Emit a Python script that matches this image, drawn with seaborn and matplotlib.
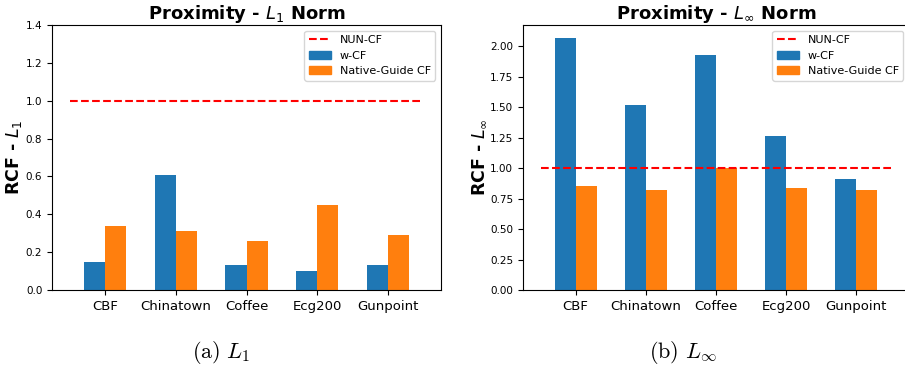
import pandas as pd
import matplotlib
matplotlib.use("Agg")
import matplotlib.pyplot as plt
import seaborn as sns
from matplotlib.lines import Line2D
from matplotlib.patches import Patch

datasets = ["CBF", "Chinatown", "Coffee", "Ecg200", "Gunpoint"]
methods = ["w-CF", "Native-Guide CF"]
l1_wcf = [0.15, 0.61, 0.13, 0.10, 0.13]
l1_native = [0.34, 0.31, 0.26, 0.45, 0.29]
linf_wcf = [2.07, 1.52, 1.93, 1.26, 0.91]
linf_native = [0.85, 0.82, 1.00, 0.84, 0.82]
nun_cf = 1.0

plt.rcParams["mathtext.fontset"] = "dejavusans"
palette = {"w-CF": "#1f77b4", "Native-Guide CF": "#ff7f0e"}


def long_df(wcf, native):
    return pd.DataFrame({
        "dataset": datasets * 2,
        "method": ["w-CF"] * len(datasets) + ["Native-Guide CF"] * len(datasets),
        "rcf": wcf + native,
    })


fig = plt.figure(figsize=(9.05, 3.72), dpi=100)
ax1 = fig.add_axes([0.0575, 0.2204, 0.4298, 0.7124])
ax2 = fig.add_axes([0.5779, 0.2204, 0.4265, 0.7124])

panels = [
    (ax1, l1_wcf, l1_native, r"Proximity - $L_1$ Norm", r"RCF - $L_1$"),
    (ax2, linf_wcf, linf_native, r"Proximity - $L_\infty$ Norm", r"RCF - $L_\infty$"),
]

for ax, wcf, native, title, ylabel in panels:
    sns.barplot(data=long_df(wcf, native), x="dataset", y="rcf", hue="method",
                hue_order=methods, palette=palette, width=0.6, saturation=1,
                legend=False, ax=ax)
    ax.plot([-0.5, len(datasets) - 0.5], [nun_cf, nun_cf], "r--", lw=1.5)
    ax.set_xlim(-0.75, len(datasets) - 0.25)
    ax.set_title(title, fontsize=13, fontweight="bold", pad=3)
    ax.set_ylabel(ylabel, fontsize=12.5, fontweight="bold", labelpad=1)
    ax.set_xlabel("")
    ax.tick_params(axis="y", labelsize=7.5)
    ax.tick_params(axis="x", labelsize=9.5)
    handles = [Line2D([0], [0], color="r", ls="--", lw=1.5),
               Patch(color=palette["w-CF"]), Patch(color=palette["Native-Guide CF"])]
    ax.legend(handles, ["NUN-CF"] + methods, loc="upper right", fontsize=8)

ax1.set_ylim(0, 1.4)
ax2.set_ylim(0, max(linf_wcf) * 1.05)
ax2.set_yticks([0, 0.25, 0.5, 0.75, 1.0, 1.25, 1.5, 1.75, 2.0])
ax2.set_yticklabels([f"{v:.2f}" for v in ax2.get_yticks()])
ax1.set_yticklabels([f"{v:.1f}" for v in ax1.get_yticks()])

fig.text(221 / 905, 1 - 353 / 372, r"$\mathrm{(a)}\ L_1$", fontsize=16,
         ha="center", va="center", math_fontfamily="cm")
fig.text(683 / 905, 1 - 353 / 372, r"$\mathrm{(b)}\ L_\infty$", fontsize=16,
         ha="center", va="center", math_fontfamily="cm")

fig.savefig("out.png", dpi=100)
